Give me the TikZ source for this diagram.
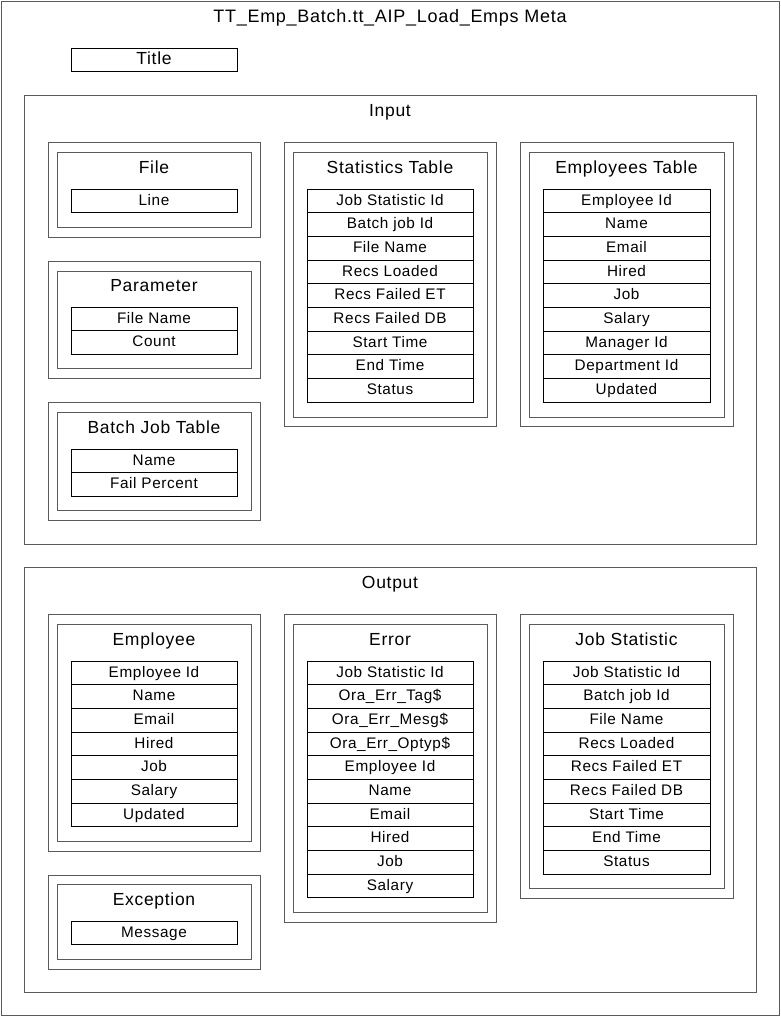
\documentclass[tikz,border=0pt]{standalone}
\usepackage{fontspec}
\setmainfont{Liberation Sans}[LetterSpace=4]
\usetikzlibrary{positioning}
\definecolor{framegray}{RGB}{90,90,90}
\tikzset{
  frame/.style={draw=framegray, line width=1pt, inner sep=0pt, outer sep=0pt, anchor=north west},
  field/.style={draw=black, line width=1pt, inner sep=0pt, outer sep=0pt,
    minimum width=166pt, minimum height=23.67pt, text height=11pt, text depth=2.5pt,
    font=\fontsize{15.3}{17}\selectfont},
  heading/.style={font=\fontsize{17.5}{20}\selectfont, inner sep=0pt, anchor=base},
}

\begin{document}
\begin{tikzpicture}[x=1pt,y=-1pt]
\useasboundingbox (0,0) rectangle (781,1017);
\node[frame, minimum width=778pt, minimum height=1014pt] (page) at (1,1) {};
\node[heading, font=\fontsize{18}{20}\selectfont] (pagename) at (390,23) {TT\_Emp\_Batch.tt\_AIP\_Load\_Emps Meta};
\node[field, anchor=north west, minimum height=23pt, text height=12.5pt, text depth=3pt,
  font=\fontsize{17.5}{20}\selectfont] (titlebox) at (71,48) {Title};

% input side
\node[frame, minimum width=732pt, minimum height=449pt] (input) at (24,95) {};
\node[heading] (inputname) at (390,116) {Input};

\node[frame, minimum width=212pt, minimum height=95pt] (file) at (48,142) {};
\node[frame, minimum width=194pt, minimum height=75pt] (fileIn) at (57,152) {};
\node[heading] (filename) at (154,173) {File};
\node[field, anchor=north west] (fl1) at (71,189) {Line};

\node[frame, minimum width=212pt, minimum height=117pt] (param) at (48,261) {};
\node[frame, minimum width=194pt, minimum height=97pt] (paramIn) at (57,271) {};
\node[heading] (paramname) at (154,291) {Parameter};
\node[field, anchor=north west] (pa1) at (71,307) {File Name};
\node[field, below=0pt of pa1] (pa2) {Count};

\node[frame, minimum width=212pt, minimum height=118pt] (batch) at (48,402) {};
\node[frame, minimum width=194pt, minimum height=98pt] (batchIn) at (57,412) {};
\node[heading] (batchname) at (154,433) {Batch Job Table};
\node[field, anchor=north west] (bj1) at (71,449) {Name};
\node[field, below=0pt of bj1] (bj2) {Fail Percent};

\node[frame, minimum width=212pt, minimum height=284pt] (stats) at (284,142) {};
\node[frame, minimum width=194pt, minimum height=265pt] (statsIn) at (293,152) {};
\node[heading] (statsname) at (390,173) {Statistics Table};
\node[field, anchor=north west] (st1) at (307,189) {Job Statistic Id};
\node[field, below=0pt of st1] (st2) {Batch job Id};
\node[field, below=0pt of st2] (st3) {File Name};
\node[field, below=0pt of st3] (st4) {Recs Loaded};
\node[field, below=0pt of st4] (st5) {Recs Failed ET};
\node[field, below=0pt of st5] (st6) {Recs Failed DB};
\node[field, below=0pt of st6] (st7) {Start Time};
\node[field, below=0pt of st7] (st8) {End Time};
\node[field, below=0pt of st8] (st9) {Status};

\node[frame, minimum width=213pt, minimum height=284pt] (emps) at (520,142) {};
\node[frame, minimum width=195pt, minimum height=265pt] (empsIn) at (529,152) {};
\node[heading] (empsname) at (626.5,173) {Employees Table};
\node[field, anchor=north west, minimum width=167pt] (et1) at (543,189) {Employee Id};
\node[field, minimum width=167pt, below=0pt of et1] (et2) {Name};
\node[field, minimum width=167pt, below=0pt of et2] (et3) {Email};
\node[field, minimum width=167pt, below=0pt of et3] (et4) {Hired};
\node[field, minimum width=167pt, below=0pt of et4] (et5) {Job};
\node[field, minimum width=167pt, below=0pt of et5] (et6) {Salary};
\node[field, minimum width=167pt, below=0pt of et6] (et7) {Manager Id};
\node[field, minimum width=167pt, below=0pt of et7] (et8) {Department Id};
\node[field, minimum width=167pt, below=0pt of et8] (et9) {Updated};

% output side
\node[frame, minimum width=732pt, minimum height=425pt] (output) at (24,567) {};
\node[heading] (outputname) at (390,588) {Output};

\node[frame, minimum width=212pt, minimum height=237pt] (employee) at (48,614) {};
\node[frame, minimum width=194pt, minimum height=217pt] (employeeIn) at (57,624) {};
\node[heading] (employeename) at (154,645) {Employee};
\node[field, anchor=north west] (em1) at (71,661) {Employee Id};
\node[field, below=0pt of em1] (em2) {Name};
\node[field, below=0pt of em2] (em3) {Email};
\node[field, below=0pt of em3] (em4) {Hired};
\node[field, below=0pt of em4] (em5) {Job};
\node[field, below=0pt of em5] (em6) {Salary};
\node[field, below=0pt of em6] (em7) {Updated};

\node[frame, minimum width=212pt, minimum height=94pt] (exc) at (48,875) {};
\node[frame, minimum width=194pt, minimum height=75pt] (excIn) at (57,884) {};
\node[heading] (excname) at (154,905) {Exception};
\node[field, anchor=north west] (ex1) at (71,921) {Message};

\node[frame, minimum width=212pt, minimum height=308pt] (error) at (284,614) {};
\node[frame, minimum width=194pt, minimum height=288pt] (errorIn) at (293,624) {};
\node[heading] (errorname) at (390,645) {Error};
\node[field, anchor=north west] (er1) at (307,661) {Job Statistic Id};
\node[field, below=0pt of er1] (er2) {Ora\_Err\_Tag\$};
\node[field, below=0pt of er2] (er3) {Ora\_Err\_Mesg\$};
\node[field, below=0pt of er3] (er4) {Ora\_Err\_Optyp\$};
\node[field, below=0pt of er4] (er5) {Employee Id};
\node[field, below=0pt of er5] (er6) {Name};
\node[field, below=0pt of er6] (er7) {Email};
\node[field, below=0pt of er7] (er8) {Hired};
\node[field, below=0pt of er8] (er9) {Job};
\node[field, below=0pt of er9] (er10) {Salary};

\node[frame, minimum width=213pt, minimum height=284pt] (jobstat) at (520,614) {};
\node[frame, minimum width=195pt, minimum height=264pt] (jobstatIn) at (529,624) {};
\node[heading] (jobstatname) at (626.5,645) {Job Statistic};
\node[field, anchor=north west, minimum width=167pt] (js1) at (543,661) {Job Statistic Id};
\node[field, minimum width=167pt, below=0pt of js1] (js2) {Batch job Id};
\node[field, minimum width=167pt, below=0pt of js2] (js3) {File Name};
\node[field, minimum width=167pt, below=0pt of js3] (js4) {Recs Loaded};
\node[field, minimum width=167pt, below=0pt of js4] (js5) {Recs Failed ET};
\node[field, minimum width=167pt, below=0pt of js5] (js6) {Recs Failed DB};
\node[field, minimum width=167pt, below=0pt of js6] (js7) {Start Time};
\node[field, minimum width=167pt, below=0pt of js7] (js8) {End Time};
\node[field, minimum width=167pt, below=0pt of js8] (js9) {Status};
\end{tikzpicture}
\end{document}
